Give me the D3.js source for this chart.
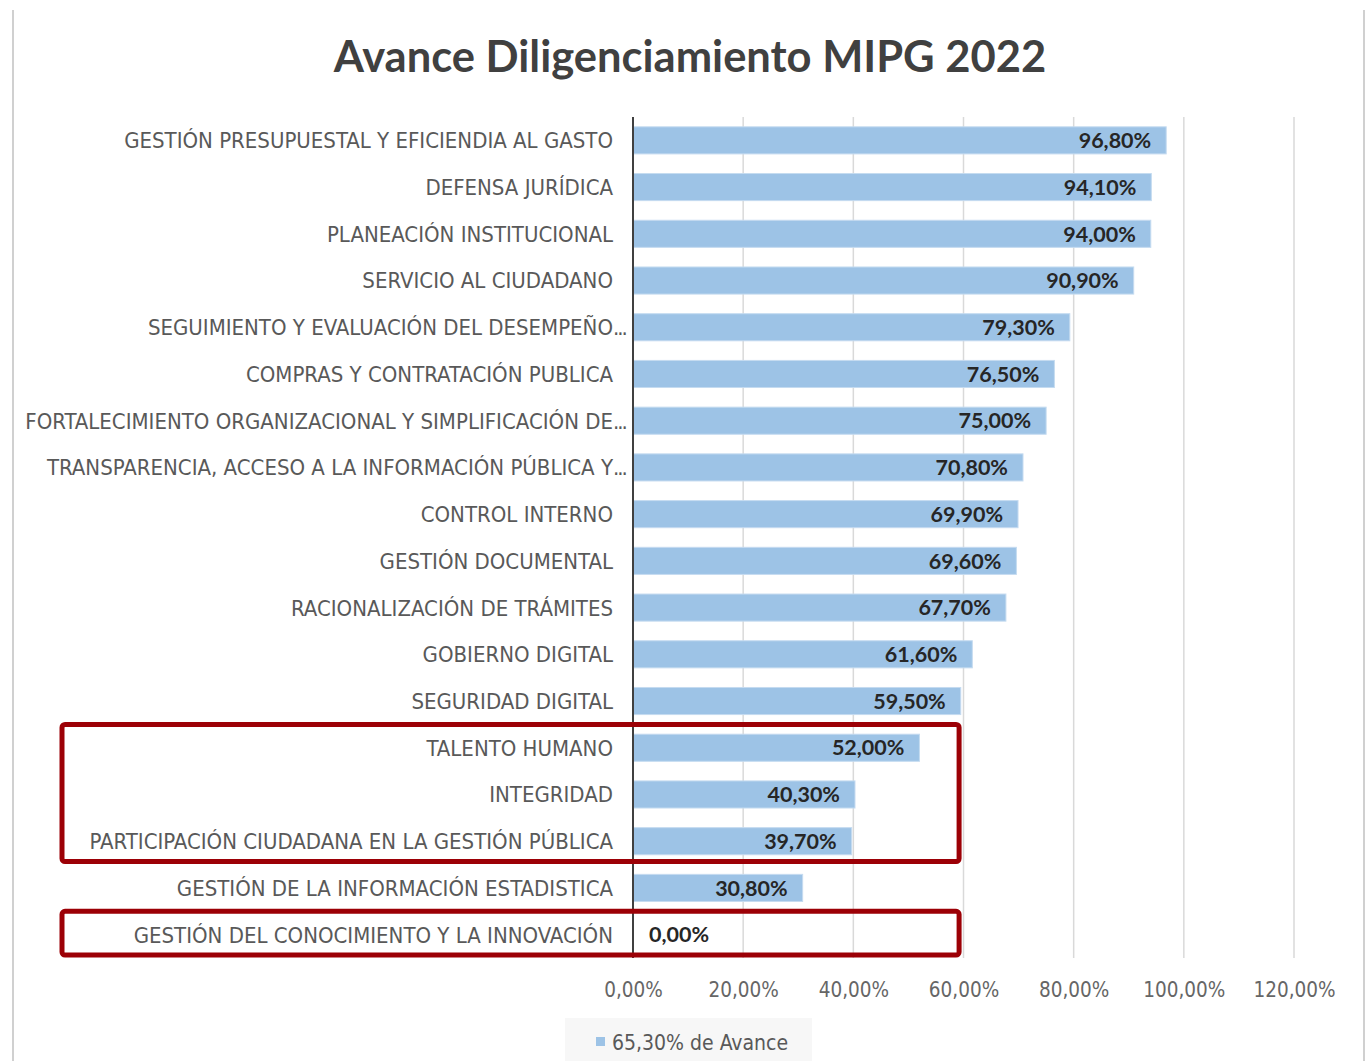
<!DOCTYPE html>
<html>
<head>
<meta charset="utf-8">
<script src="https://cdn.jsdelivr.net/npm/d3@7"></script>
<style>
  body { margin: 0; background: #fff; }
  svg { display: block; }
</style>
</head>
<body>
<div id="chart"></div>
<script>
// --------------------------------------
//  Data
// --------------------------------------

const categories = [
  "GESTIÓN PRESUPUESTAL Y EFICIENDIA AL GASTO",
  "DEFENSA JURÍDICA",
  "PLANEACIÓN INSTITUCIONAL",
  "SERVICIO AL CIUDADANO",
  "SEGUIMIENTO Y EVALUACIÓN DEL DESEMPEÑO...",
  "COMPRAS Y CONTRATACIÓN PUBLICA",
  "FORTALECIMIENTO ORGANIZACIONAL Y SIMPLIFICACIÓN DE...",
  "TRANSPARENCIA, ACCESO A LA INFORMACIÓN PÚBLICA Y...",
  "CONTROL INTERNO",
  "GESTIÓN DOCUMENTAL",
  "RACIONALIZACIÓN DE TRÁMITES",
  "GOBIERNO DIGITAL",
  "SEGURIDAD DIGITAL",
  "TALENTO HUMANO",
  "INTEGRIDAD",
  "PARTICIPACIÓN CIUDADANA EN LA GESTIÓN PÚBLICA",
  "GESTIÓN DE LA INFORMACIÓN ESTADISTICA",
  "GESTIÓN DEL CONOCIMIENTO Y LA INNOVACIÓN"
];

const avance = [96.8, 94.1, 94.0, 90.9, 79.3, 76.5, 75.0, 70.8, 69.9, 69.6,
                67.7, 61.6, 59.5, 52.0, 40.3, 39.7, 30.8, 0.0];

const xTicks = [0, 20, 40, 60, 80, 100, 120];

const title = "Avance Diligenciamiento MIPG 2022";
const legendLabel = "65,30% de Avance";

// highlighted groups (red boxes)
const highlights = [
  ["TALENTO HUMANO", "PARTICIPACIÓN CIUDADANA EN LA GESTIÓN PÚBLICA"],
  ["GESTIÓN DEL CONOCIMIENTO Y LA INNOVACIÓN", "GESTIÓN DEL CONOCIMIENTO Y LA INNOVACIÓN"]
];
const highlightMax = 59.2;

const data = categories.map((c, i) => ({ name: c, value: avance[i] }));

// --------------------------------------
//  Margin and canvas
// --------------------------------------

const width = 1366;
const height = 1061;
const margin = {top: 117, right: 72, bottom: 103, left: 633};

const labelFont = "'Liberation Sans Narrow', 'DejaVu Sans Condensed', sans-serif";
const boldFont = "Lato, 'Open Sans', sans-serif";
const textGray = "#595959";

const svg = d3.select("#chart")
  .append("svg")
    .attr("width", width)
    .attr("height", height);

// chart frame
svg.append("line")
  .attr("x1", 13).attr("x2", 13).attr("y1", 10).attr("y2", height)
  .attr("stroke", "#d0d0d0").attr("stroke-width", 2);
svg.append("line")
  .attr("x1", 1364).attr("x2", 1364).attr("y1", 10).attr("y2", height)
  .attr("stroke", "#d0d0d0").attr("stroke-width", 2);

// --------------------------------------
//  Scales
// --------------------------------------

const x = d3.scaleLinear()
  .domain([0, 120])
  .range([margin.left, width - margin.right]);

const y = d3.scaleBand()
  .domain(categories)
  .range([margin.top, height - margin.bottom])
  .paddingInner(0.42)
  .paddingOuter(0.21);

// --------------------------------------
//  Grid and axes
// --------------------------------------

svg.append("g")
  .selectAll("line")
  .data(xTicks.filter(d => d > 0))
  .join("line")
    .attr("x1", d => x(d)).attr("x2", d => x(d))
    .attr("y1", margin.top).attr("y2", height - margin.bottom)
    .attr("stroke", "#d9d9d9")
    .attr("stroke-width", 1.5);

const xAxis = svg.append("g")
  .attr("transform", `translate(0, ${height - margin.bottom})`)
  .call(d3.axisBottom(x)
    .tickValues(xTicks)
    .tickSize(0)
    .tickPadding(24)
    .tickFormat(d => d3.format(".2f")(d).replace(".", ",") + "%"));
xAxis.select(".domain").remove();
xAxis.selectAll("text")
  .attr("font-family", labelFont)
  .attr("font-size", 20.5)
  .attr("fill", "#666");

// --------------------------------------
//  Bars
// --------------------------------------

svg.append("g")
  .selectAll("rect")
  .data(data)
  .join("rect")
    .attr("x", x(0))
    .attr("y", d => y(d.name))
    .attr("width", d => x(d.value) - x(0))
    .attr("height", y.bandwidth())
    .attr("fill", "#9dc3e6")
    .attr("stroke", "#c5dbf0")
    .attr("stroke-width", 1);

// value labels
svg.append("g")
  .selectAll("text")
  .data(data)
  .join("text")
    .attr("x", d => d.value > 0 ? x(d.value) - 15 : x(0) + 16)
    .attr("y", d => y(d.name) + y.bandwidth() / 2)
    .attr("dy", "0.36em")
    .attr("text-anchor", d => d.value > 0 ? "end" : "start")
    .attr("font-family", boldFont)
    .attr("font-weight", "bold")
    .attr("font-size", 21.5)
    .attr("fill", "#262626")
    .text(d => d3.format(".2f")(d.value).replace(".", ",") + "%");

// category axis line
svg.append("line")
  .attr("x1", x(0)).attr("x2", x(0))
  .attr("y1", margin.top).attr("y2", height - margin.bottom)
  .attr("stroke", "#404040")
  .attr("stroke-width", 2);

// category labels
const catLabels = svg.append("g")
  .selectAll("g")
  .data(categories)
  .join("g")
    .attr("transform", d => `translate(${x(0) - 20}, ${y(d) + y.bandwidth() / 2})`);

catLabels.append("text")
  .attr("text-anchor", "end")
  .attr("dy", "0.36em")
  .attr("font-family", labelFont)
  .attr("font-size", 22)
  .attr("fill", textGray)
  .text(d => d.replace(/\.\.\.$/, ""));

catLabels.filter(d => d.endsWith("..."))
  .append("text")
    .attr("dy", "0.36em")
    .attr("font-family", labelFont)
    .attr("font-size", 22)
    .attr("letter-spacing", -2)
    .attr("fill", textGray)
    .text("...");

// --------------------------------------
//  Highlight boxes
// --------------------------------------

svg.append("g")
  .selectAll("rect")
  .data(highlights)
  .join("rect")
    .attr("x", 62)
    .attr("y", d => y(d[0]) - y.step() * y.paddingInner() / 2)
    .attr("width", d => x(highlightMax) - 62)
    .attr("height", d => y(d[1]) - y(d[0]) + y.step() - 3)
    .attr("rx", 3)
    .attr("fill", "none")
    .attr("stroke", "#9c0006")
    .attr("stroke-width", 5);

// --------------------------------------
//  Title and legend
// --------------------------------------

svg.append("text")
  .attr("x", 690)
  .attr("y", 72)
  .attr("text-anchor", "middle")
  .attr("font-family", boldFont)
  .attr("font-weight", "bold")
  .attr("font-size", 43.5)
  .attr("fill", "#404040")
  .text(title);

const legend = svg.append("g")
  .attr("transform", "translate(565, 1018)");
legend.append("rect")
  .attr("width", 247).attr("height", 43)
  .attr("fill", "#f7f7f7");
legend.append("rect")
  .attr("x", 31).attr("y", 19).attr("width", 9).attr("height", 9)
  .attr("fill", "#9dc3e6");
legend.append("text")
  .attr("x", 47).attr("y", 24)
  .attr("dy", "0.36em")
  .attr("font-family", labelFont)
  .attr("font-size", 21)
  .attr("fill", textGray)
  .text(legendLabel);
</script>
</body>
</html>
